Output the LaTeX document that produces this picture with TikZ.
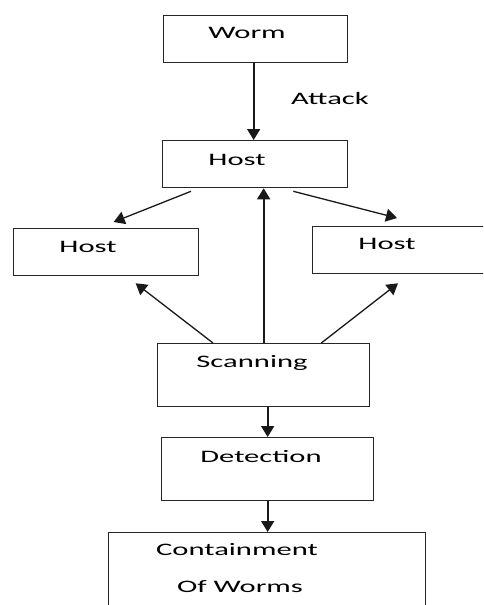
\documentclass[tikz,border=0pt]{standalone}
\usepackage{fontspec}
\setmainfont{Carlito}[FakeStretch=1.75]
\usetikzlibrary{arrows.meta,calc}
\tikzset{
  box/.style={draw=black!85, line width=1.3pt, inner sep=0pt, anchor=north west},
  txt/.style={inner sep=0pt, text=black, font=\fontsize{17.5}{20}\selectfont},
  arr/.style={draw=black!90, line width=1.7pt, -{Triangle[length=11pt,width=13pt]}},
  darr/.style={draw=black!90, line width=1.3pt, -{Triangle[length=11pt,width=13pt]}}
}
\begin{document}
\begin{tikzpicture}[x=1pt,y=-1pt]
\useasboundingbox (0,0) rectangle (483,605);
\clip (0,0) rectangle (483,605);
% boxes
\node[box, minimum width=184pt, minimum height=47pt] (worm) at (163,15) {};
\node[box, minimum width=185pt, minimum height=47pt] (host) at (162,140) {};
\node[box, minimum width=185pt, minimum height=47pt] (hostL) at (13,228) {};
\node[box, minimum width=190pt, minimum height=47pt] (hostR) at (312,226) {};
\node[box, minimum width=212pt, minimum height=63pt] (scan) at (157,343) {};
\node[box, minimum width=212pt, minimum height=63pt] (detect) at (161,437) {};
\node[box, minimum width=317pt, minimum height=100pt] (contain) at (108,532) {};
% texts
\node[txt] (wormT) at (247,33) {Worm};
\node[txt] (attackT) at (330,98) {Attack};
\node[txt] (hostT) at (237,160) {Host};
\node[txt] (hostLT) at (88,247) {Host};
\node[txt] (hostRT) at (387,244) {Host};
\node[txt] (scanT) at (252,363) {Scanning};
\node[txt] (detectT) at (261,457) {Detection};
\node[txt] (containT) at (237,550) {Containment};
\node[txt] (ofwormsT) at (240,587) {Of Worms};
% connectors
\draw[arr] ([xshift=-2pt]worm.south) -- ([xshift=-2pt]worm.south |- host.north);
\draw[darr] ([xshift=29pt,yshift=-3pt]host.south west) -- ([xshift=7.5pt,yshift=6pt]hostL.north);
\draw[darr] ([xshift=-55pt,yshift=-3pt]host.south east) -- ([xshift=85pt,yshift=8pt]hostR.north west);
\draw[arr] (scan.north) -- (scan.north |- host.south);
\draw[darr] ([xshift=56pt]scan.north west) -- ([xshift=29.5pt,yshift=-7pt]hostL.south);
\draw[darr] ([xshift=-49pt]scan.north east) -- ([xshift=86pt,yshift=-9pt]hostR.south west);
\draw[arr] (detect.north |- scan.south) -- (detect.north);
\draw[arr] (detect.south) -- (detect.south |- contain.north);
\end{tikzpicture}
\end{document}
